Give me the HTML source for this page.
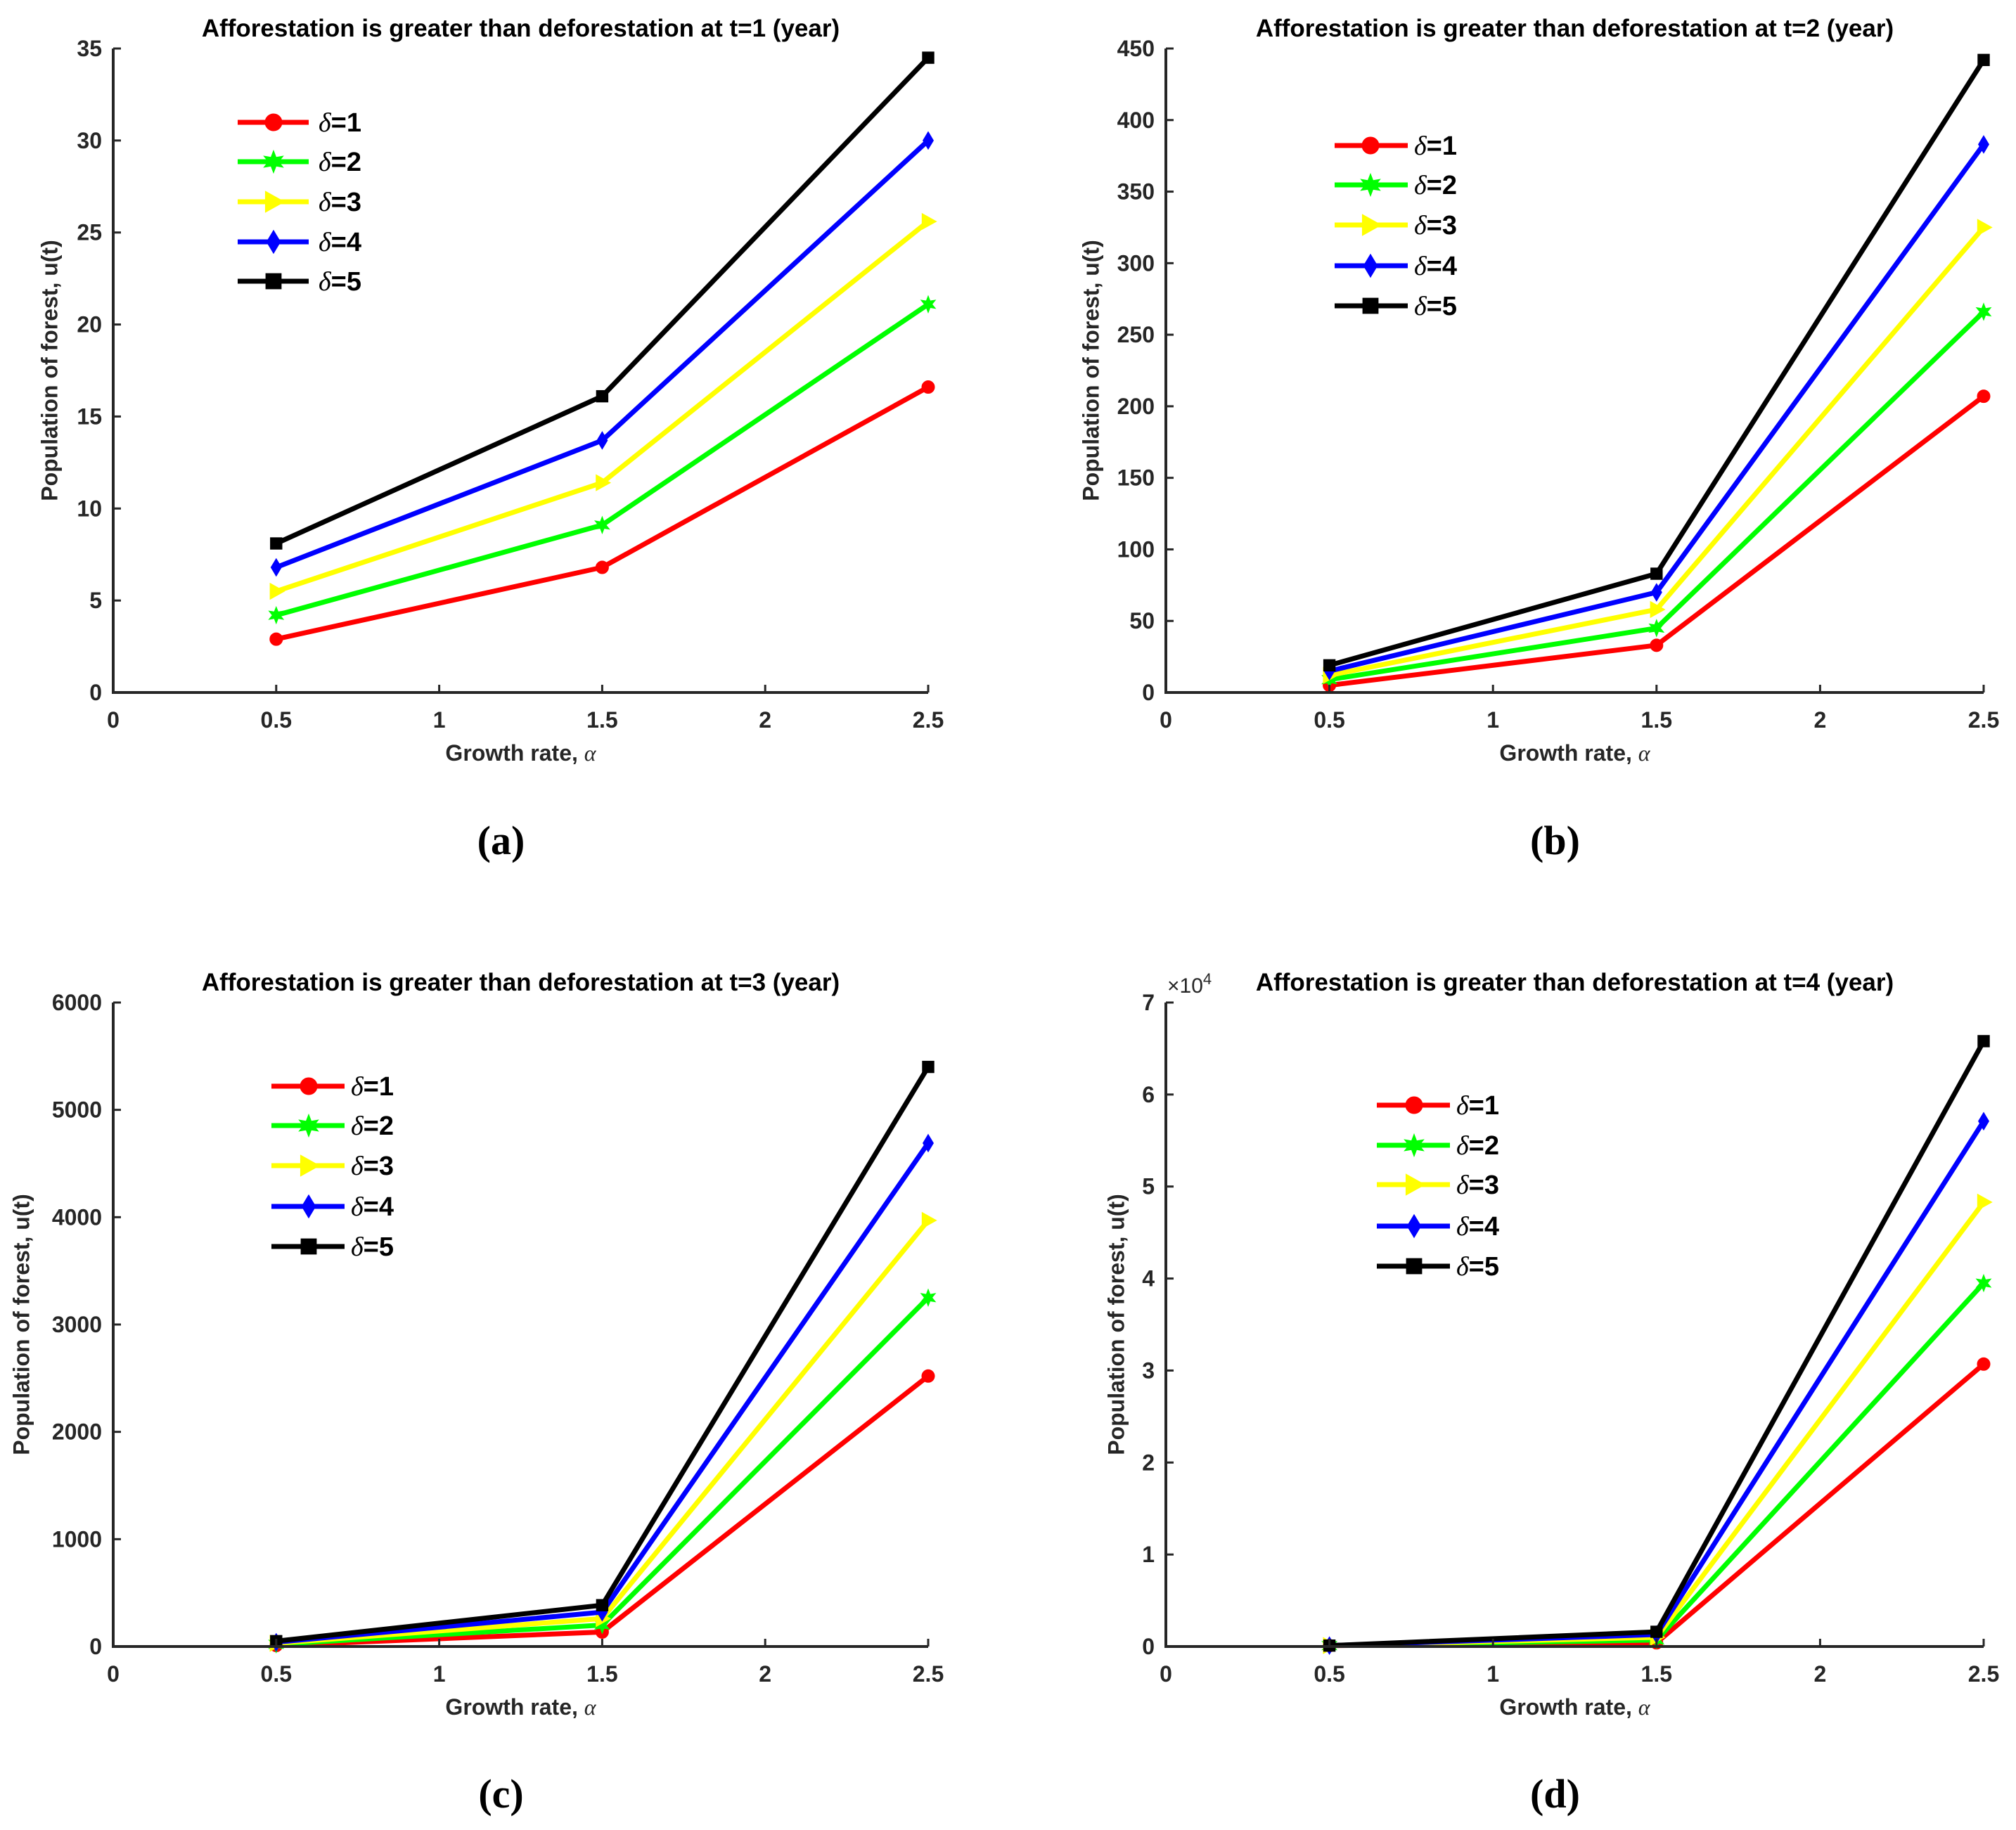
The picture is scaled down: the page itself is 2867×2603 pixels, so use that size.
<!DOCTYPE html>
<html><head><meta charset="utf-8">
<style>
html,body{margin:0;padding:0;background:#fff;}
svg{display:block;}
</style></head>
<body>
<svg id="fig" width="2867" height="2603" viewBox="0 0 2867 2603" xmlns="http://www.w3.org/2000/svg"></svg>
<script>
const xCats = [0.5, 1.5, 2.5];
const xTicks = [0, 0.5, 1, 1.5, 2, 2.5];
const seriesNames = ["δ=1","δ=2","δ=3","δ=4","δ=5"];
const seriesColors = ["#ff0000","#00ff00","#ffff00","#0000ff","#000000"];
const seriesMarkers = ["circle","star","tri","diamond","square"];

const aD1 = [2.9, 6.8, 16.6];
const aD2 = [4.2, 9.1, 21.1];
const aD3 = [5.5, 11.4, 25.6];
const aD4 = [6.8, 13.7, 30.0];
const aD5 = [8.1, 16.1, 34.5];
const aTicks = [0,5,10,15,20,25,30,35];

const bD1 = [5, 33, 207];
const bD2 = [9, 45, 266];
const bD3 = [12, 58, 325];
const bD4 = [15, 70, 383];
const bD5 = [19, 83, 442];
const bTicks = [0,50,100,150,200,250,300,350,400,450];

const cD1 = [10, 135, 2520];
const cD2 = [20, 200, 3250];
const cD3 = [30, 260, 3970];
const cD4 = [40, 320, 4690];
const cD5 = [50, 385, 5400];
const cTicks = [0,1000,2000,3000,4000,5000,6000];

const dD1 = [0.01, 0.04, 3.07];
const dD2 = [0.01, 0.07, 3.95];
const dD3 = [0.01, 0.10, 4.83];
const dD4 = [0.01, 0.13, 5.71];
const dD5 = [0.01, 0.16, 6.58];
const dTicks = [0,1,2,3,4,5,6,7];

const panels = [
 {id:"a", title:"Afforestation is greater than deforestation at t=1 (year)", x0:161, x1:1320, y0:985, y1:69, ymax:35, ticks:aTicks, data:[aD1,aD2,aD3,aD4,aD5], ylabX:73, leg:{x0:338,x1:439,mx:389,tx:453,rows:[174,230,287,344,400]}, cap:"(a)", capY:1197, exp:false},
 {id:"b", title:"Afforestation is greater than deforestation at t=2 (year)", x0:1658, x1:2821, y0:985, y1:69, ymax:450, ticks:bTicks, data:[bD1,bD2,bD3,bD4,bD5], ylabX:1554, leg:{x0:1898,x1:2002,mx:1949,tx:2011,rows:[207,263,320,378,435]}, cap:"(b)", capY:1197, exp:false},
 {id:"c", title:"Afforestation is greater than deforestation at t=3 (year)", x0:161, x1:1320, y0:2342, y1:1426, ymax:6000, ticks:cTicks, data:[cD1,cD2,cD3,cD4,cD5], ylabX:33, leg:{x0:386,x1:490,mx:439,tx:499,rows:[1545,1601,1658,1716,1773]}, cap:"(c)", capY:2553, exp:false},
 {id:"d", title:"Afforestation is greater than deforestation at t=4 (year)", x0:1658, x1:2821, y0:2342, y1:1426, ymax:7, ticks:dTicks, data:[dD1,dD2,dD3,dD4,dD5], ylabX:1590, leg:{x0:1958,x1:2062,mx:2011,tx:2071,rows:[1572,1629,1685,1744,1801]}, cap:"(d)", capY:2553, exp:true}
];

const NS="http://www.w3.org/2000/svg";
const svg=document.getElementById("fig");
const SANS='font-family:"Liberation Sans",Arial,sans-serif;';
const SERIF='font-family:"Liberation Serif","Times New Roman",serif;';
function mk(tag,attrs,parent){const e=document.createElementNS(NS,tag);for(const k in attrs)e.setAttribute(k,attrs[k]);(parent||svg).appendChild(e);return e;}

function marker(g,type,cx,cy,s,color){
  let e;
  if(type==="circle"){e=mk("circle",{cx:cx,cy:cy,r:s*0.5,fill:color,stroke:color,"stroke-width":3},g);}
  else if(type==="square"){e=mk("rect",{x:cx-s*0.45,y:cy-s*0.45,width:s*0.9,height:s*0.9,fill:color,stroke:color,"stroke-width":3},g);}
  else if(type==="diamond"){const r=s*0.65;e=mk("polygon",{points:`${cx},${cy-r} ${cx+r*0.6},${cy} ${cx},${cy+r} ${cx-r*0.6},${cy}`,fill:color,stroke:color,"stroke-width":3},g);}
  else if(type==="tri"){const r=s*0.6;e=mk("polygon",{points:`${cx+r},${cy} ${cx-r*0.8},${cy-r} ${cx-r*0.8},${cy+r}`,fill:color,stroke:color,"stroke-width":3},g);}
  else {let p=[];for(let i=0;i<12;i++){const a=-Math.PI/2+i*Math.PI/6;const r=(i%2===0)?s*0.65:s*0.3;p.push((cx+r*Math.cos(a)).toFixed(1)+","+(cy+r*Math.sin(a)).toFixed(1));}e=mk("polygon",{points:p.join(" "),fill:color,stroke:color,"stroke-width":2},g);}
  return e;
}

panels.forEach(P=>{
  const g=mk("g",{});
  
  
  const xs=v=>P.x0+(v/2.5)*(P.x1-P.x0);
  const ys=v=>P.y0-(v/P.ymax)*(P.y0-P.y1);
  const t=mk("text",{x:(P.x0+P.x1)/2,y:P.y1-17,"text-anchor":"middle",style:SANS+"font-size:35px;font-weight:bold;fill:#000"},g);
  t.textContent=P.title;
  
  
  P.data.forEach((vals,si)=>{
    const sg=mk("g",{},g);
    
    
    const pts=vals.map((v,i)=>xs(xCats[i]).toFixed(1)+","+ys(v).toFixed(1)).join(" ");
    const pl=mk("polyline",{points:pts,fill:"none",stroke:seriesColors[si],"stroke-width":7,"stroke-linejoin":"miter"},sg);
    
    
    vals.forEach((v,i)=>{
      const m=marker(sg,seriesMarkers[si],xs(xCats[i]),ys(v),16,seriesColors[si]);
      
      
    });
  });
  const ax=mk("path",{d:`M${P.x0},${P.y1} L${P.x0},${P.y0} L${P.x1},${P.y0}`,fill:"none",stroke:"#262626","stroke-width":4},g);
  
  
  P.ticks.forEach(v=>{
    const y=ys(v);
    mk("line",{x1:P.x0,y1:y,x2:P.x0+11,y2:y,stroke:"#262626","stroke-width":3},g);
    const tl=mk("text",{x:P.x0-16,y:y+11,"text-anchor":"end",style:SANS+"font-size:32px;font-weight:bold;fill:#262626"},g);
    tl.textContent=String(v);
    
    
  });
  xTicks.forEach(v=>{
    const x=xs(v);
    mk("line",{x1:x,y1:P.y0,x2:x,y2:P.y0-11,stroke:"#262626","stroke-width":3},g);
    const tl=mk("text",{x:x,y:P.y0+50,"text-anchor":"middle",style:SANS+"font-size:32px;font-weight:bold;fill:#262626"},g);
    tl.textContent=String(v);
    
    
  });
  if(P.exp){
    const ex=mk("text",{x:P.x0+2,y:P.y1-14,style:SANS+"font-size:30px;fill:#262626"},g);
    ex.innerHTML='×10<tspan dy="-12" style="font-size:22px">4</tspan>';
    
    
  }
  const xl=mk("text",{x:(P.x0+P.x1)/2,y:P.y0+97,"text-anchor":"middle",style:SANS+"font-size:32px;font-weight:bold;fill:#262626"},g);
  xl.innerHTML='Growth rate, <tspan style=\''+SERIF+'font-style:italic;font-weight:normal\'>α</tspan>';
  
  
  const yc=(P.y0+P.y1)/2;
  const yl=mk("text",{x:P.ylabX,y:yc,"text-anchor":"middle",transform:`rotate(-90 ${P.ylabX} ${yc})`,"dominant-baseline":"middle",style:SANS+"font-size:32px;font-weight:bold;fill:#262626"},g);
  yl.textContent="Population of forest, u(t)";
  
  
  const lg=mk("g",{},g);
  
  
  seriesNames.forEach((nm,si)=>{
    const y=P.leg.rows[si];
    const eg=mk("g",{},lg);
    
    
    mk("line",{x1:P.leg.x0,y1:y,x2:P.leg.x1,y2:y,stroke:seriesColors[si],"stroke-width":7},eg);
    marker(eg,seriesMarkers[si],P.leg.mx,y,22,seriesColors[si]);
    const lt=mk("text",{x:P.leg.tx,y:y+13,style:SANS+"font-size:38px;font-weight:bold;fill:#000"},eg);
    lt.innerHTML='<tspan style=\''+SERIF+'font-style:italic;font-weight:normal\'>δ</tspan>='+(si+1);
  });
  const cp=mk("text",{x:(P.x0+P.x1)/2 - 28,y:P.capY+18,"text-anchor":"middle",style:SERIF+"font-size:58px;font-weight:bold;fill:#000"},g);
  cp.textContent=P.cap;
  
  
});
</script>
</body></html>
